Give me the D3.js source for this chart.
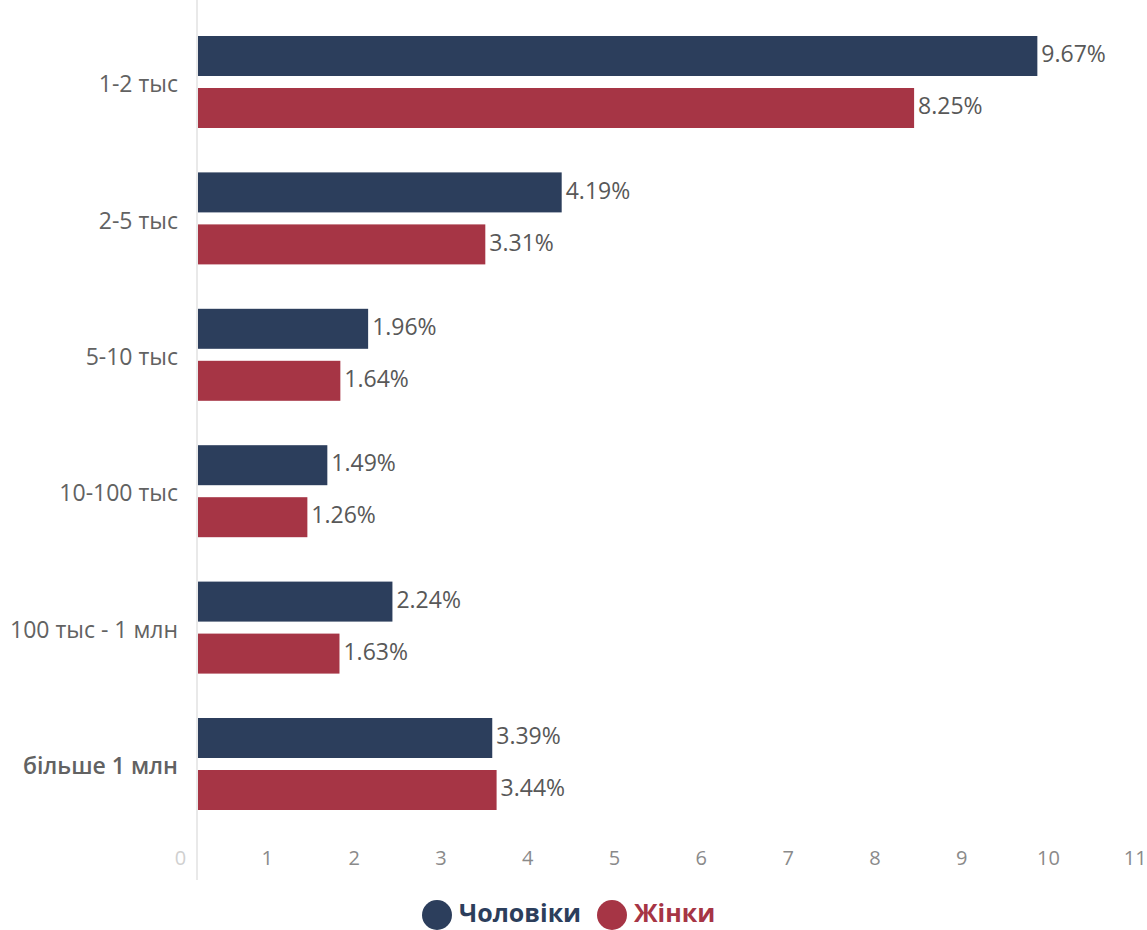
<!DOCTYPE html>
<html>
<head>
<meta charset="utf-8">
<script src="https://cdn.jsdelivr.net/npm/d3@7"></script>
<style>
  html, body { margin: 0; padding: 0; background: #fff; }
  svg { display: block; font-family: "Open Sans", "DejaVu Sans", sans-serif; }
</style>
</head>
<body>
<svg id="chart" width="1147" height="930"></svg>
<script>
// Settlement size groups and share per sex (%)
const categories = ["1-2 тыс", "2-5 тыс", "5-10 тыс", "10-100 тыс", "100 тыс - 1 млн", "більше 1 млн"];
const seriesNames = ["Чоловіки", "Жінки"];
const menValues = [9.67, 4.19, 1.96, 1.49, 2.24, 3.39];
const womenValues = [8.25, 3.31, 1.64, 1.26, 1.63, 3.44];
const xTicks = [0, 1, 2, 3, 4, 5, 6, 7, 8, 9, 10, 11];

const colors = { "Чоловіки": "#2c3e5c", "Жінки": "#a63545" };

const svg = d3.select("#chart");
const x0 = 198;
const x = d3.scaleLinear().domain([0, 11]).range([x0, x0 + 11 * 86.8]);
const y = d3.scaleBand().domain(categories).range([36, 810]).paddingInner(44.4 / 136.4).paddingOuter(0);
const ySub = d3.scaleBand().domain(seriesNames).range([0, y.bandwidth()]).paddingInner(12 / 52);

const rows = categories.map((c, i) => ({ cat: c, vals: [
  { s: seriesNames[0], v: menValues[i] },
  { s: seriesNames[1], v: womenValues[i] }
]}));

// vertical baseline
svg.append("line")
  .attr("x1", x0 - 1).attr("x2", x0 - 1)
  .attr("y1", 0).attr("y2", 880)
  .attr("stroke", "#e2e2e2").attr("stroke-width", 1.5);

// x axis tick labels
const xAxis = d3.axisBottom(x).tickValues(xTicks).tickSize(0).tickPadding(0).tickFormat(d3.format("d"));
const gx = svg.append("g").attr("transform", `translate(-18, 851)`).call(xAxis);
gx.select(".domain").remove();
gx.selectAll("text")
  .attr("fill", "#8a8a8a")
  .style("font-size", "20px")
  .style("font-family", "'Open Sans', sans-serif");
gx.selectAll(".tick").filter(d => d === 0).select("text").attr("fill", "#d0d0d0");

// category labels
svg.append("g").selectAll("text").data(categories).join("text")
  .attr("x", 178)
  .attr("y", d => y(d) + y.bandwidth() / 2 + 4)
  .attr("text-anchor", "end")
  .attr("dominant-baseline", "middle")
  .attr("fill", "#626262")
  .style("font-size", "23px")
  .style("font-weight", (d, i) => i === categories.length - 1 ? 600 : 400)
  .text(d => d);

// bars
const groups = svg.append("g").selectAll("g").data(rows).join("g")
  .attr("transform", d => `translate(0, ${y(d.cat)})`);

groups.selectAll("rect").data(d => d.vals).join("rect")
  .attr("x", x(0))
  .attr("y", d => ySub(d.s))
  .attr("width", d => x(d.v) - x(0))
  .attr("height", ySub.bandwidth())
  .attr("fill", d => colors[d.s]);

groups.selectAll("text").data(d => d.vals).join("text")
  .attr("x", d => x(d.v) + 4)
  .attr("y", d => ySub(d.s) + ySub.bandwidth() / 2)
  .attr("dominant-baseline", "middle")
  .attr("fill", "#585858")
  .style("font-size", "23px")
  .text(d => d.v.toFixed(2) + "%");

// legend
const legend = svg.append("g").attr("transform", "translate(0, 915)");
const legendItems = [{ s: seriesNames[0], cx: 437, tx: 459 }, { s: seriesNames[1], cx: 612, tx: 634 }];
legendItems.forEach(it => {
  legend.append("circle").attr("cx", it.cx).attr("cy", 0).attr("r", 15).attr("fill", colors[it.s]);
  legend.append("text").attr("x", it.tx).attr("y", 0)
    .attr("dominant-baseline", "middle")
    .attr("fill", colors[it.s])
    .style("font-size", "25px").style("font-weight", 700)
    .text(it.s);
});
</script>
</body>
</html>
